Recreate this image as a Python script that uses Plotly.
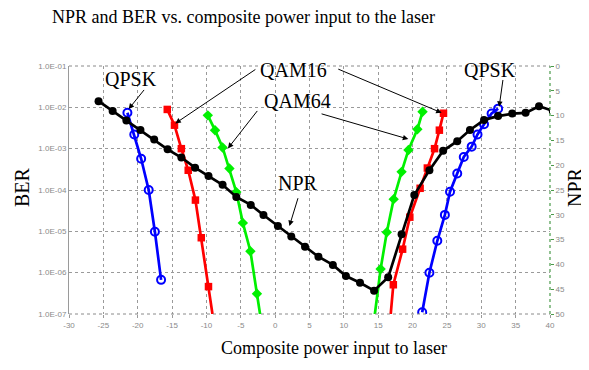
import plotly.graph_objects as go

# ---------------- data ----------------
qpsk_l_x = [-21.5, -20.5, -19.5, -18.4, -17.5, -16.6]
qpsk_l_ber = [7.4e-3, 2.2e-3, 5.7e-4, 1.0e-4, 9.8e-6, 6.7e-7]

qam16_l_x = [-15.7, -14.65, -13.65, -12.65, -11.6, -10.75, -9.7, -8.7]
qam16_l_ber = [8.9e-3, 3.7e-3, 1.0e-3, 3.0e-4, 5.7e-5, 7.0e-6, 4.6e-7, 3.4e-8]

qam64_l_x = [-9.8, -8.75, -7.65, -6.65, -5.65, -4.7, -3.6, -2.65, -1.9]
qam64_l_ber = [6.4e-3, 2.8e-3, 1.07e-3, 3.3e-4, 8.9e-5, 1.6e-5, 3.3e-6, 3.1e-7, 4.8e-8]

qam64_r_x = [14.4, 15.35, 16.25, 17.25, 18.4, 19.4, 20.7, 21.45]
qam64_r_ber = [7.1e-8, 1.23e-6, 9.5e-6, 6.0e-5, 2.75e-4, 9.3e-4, 2.95e-3, 7.8e-3]

qam16_r_x = [16.5, 17.2, 18.55, 19.6, 21.1, 22.15, 23.2, 23.9, 24.5]
qam16_r_ber = [2.5e-8, 5.1e-7, 3.7e-6, 2.2e-5, 1.1e-4, 3.4e-4, 1.0e-3, 2.8e-3, 7.2e-3]

qpsk_r_x = [21.4, 22.45, 23.6, 24.7, 25.45, 26.5, 27.45, 28.6, 29.45, 30.4, 31.5, 32.45]
qpsk_r_ber = [1.1e-7, 1.0e-6, 5.9e-6, 2.5e-5, 9.1e-5, 2.5e-4, 6.3e-4, 1.12e-3,
              2.2e-3, 3.9e-3, 7.1e-3, 9.3e-3]

npr_x = [-25.7, -23.65, -21.65, -19.6, -17.6, -15.65, -13.65, -11.65, -9.7, -7.65,
         -5.65, -3.55, -1.7, 0.4, 2.35, 4.35, 6.3, 8.4, 10.3, 12.35, 14.4, 16.45,
         18.4, 20.25, 22.45, 24.45, 26.5, 28.35, 30.4, 32.45, 34.5, 36.45, 38.4, 40.4]
npr_val = [7.1, 9.05, 11.0, 12.9, 14.8, 16.8, 18.45, 20.5, 22.2, 23.95,
           26.4, 28.0, 30.05, 32.25, 34.4, 36.45, 38.45, 40.1, 42.35, 43.7, 45.3, 42.6,
           33.9, 26.0, 21.0, 17.1, 15.15, 12.9, 10.9, 10.1, 9.6, 9.45, 8.1, 9.05]

x_ticks = [-30, -25, -20, -15, -10, -5, 0, 5, 10, 15, 20, 25, 30, 35, 40]
x_ticktext = ["-30", "-25", "-20", "-15", "-10", "-5", "0", "5", "10", "15",
              "20", "25", "30", "35", "40"]
ber_ticks = [1e-7, 1e-6, 1e-5, 1e-4, 1e-3, 1e-2, 1e-1]
ber_ticktext = ["1.0E-07", "1.0E-06", "1.0E-05", "1.0E-04", "1.0E-03", "1.0E-02", "1.0E-01"]
npr_ticks = [0, 5, 10, 15, 20, 25, 30, 35, 40, 45, 50]
npr_ticktext = [str(v) for v in npr_ticks]

# ---------------- figure ----------------
fig = go.Figure()

BLUE, RED, GREEN, BLACK = "#0000ff", "#ff0000", "#00f000", "#000000"
LW = 2.7

def qpsk(x, y):
    return go.Scatter(x=x, y=y, mode="lines+markers", yaxis="y",
                      line=dict(color=BLUE, width=LW),
                      marker=dict(symbol="circle-open", size=8, color=BLUE,
                                  line=dict(width=2, color=BLUE)),
                      showlegend=False)

def qam16(x, y):
    return go.Scatter(x=x, y=y, mode="lines+markers", yaxis="y",
                      line=dict(color=RED, width=LW),
                      marker=dict(symbol="square", size=7.5, color=RED),
                      showlegend=False)

def qam64(x, y):
    return go.Scatter(x=x, y=y, mode="lines+markers", yaxis="y",
                      line=dict(color=GREEN, width=LW),
                      marker=dict(symbol="diamond", size=8, color=GREEN),
                      showlegend=False)

fig.add_trace(qpsk(qpsk_l_x, qpsk_l_ber))
fig.add_trace(qam16(qam16_l_x, qam16_l_ber))
fig.add_trace(qam64(qam64_l_x, qam64_l_ber))
fig.add_trace(qam64(qam64_r_x, qam64_r_ber))
fig.add_trace(qam16(qam16_r_x, qam16_r_ber))
fig.add_trace(qpsk(qpsk_r_x, qpsk_r_ber))
fig.add_trace(go.Scatter(x=npr_x, y=npr_val, mode="lines+markers", yaxis="y2",
                         line=dict(color=BLACK, width=LW),
                         marker=dict(symbol="circle", size=8, color=BLACK),
                         showlegend=False))

tickfont = dict(family="Liberation Sans, Arial, sans-serif", size=8, color="#8a8a8a")
serif = "Liberation Serif, Times New Roman, serif"

# page body adds an 8px offset, so margins compensate for it
fig.update_layout(
    width=589, height=370,
    margin=dict(l=61, r=47, t=58, b=64),
    paper_bgcolor="white", plot_bgcolor="white",
    xaxis=dict(range=[-30, 40], tickvals=x_ticks, ticktext=x_ticktext,
               showgrid=True, gridcolor="#9a9a9a", griddash="dot", gridwidth=1,
               zeroline=False, showline=False, tickfont=tickfont,
               ticks="outside", ticklen=3, tickcolor="#9a9a9a"),
    yaxis=dict(type="log", range=[-7, -1], tickvals=ber_ticks, ticktext=ber_ticktext,
               showgrid=True, gridcolor="#9a9a9a", griddash="dot", gridwidth=1,
               zeroline=False, showline=True, linecolor="#9a9a9a", linewidth=1,
               tickfont=tickfont, ticks=""),
    yaxis2=dict(overlaying="y", side="right", range=[50, 0], tickvals=npr_ticks,
                ticktext=npr_ticktext, showgrid=False, zeroline=False, showline=False,
                tickfont=tickfont, ticks="outside", ticklen=3, tickcolor="#4a9a4a"),
)

# green dotted NPR axis line
fig.add_shape(type="line", xref="paper", yref="paper", x0=1, x1=1, y0=0, y1=1,
              line=dict(color="#4a9a4a", width=1.2, dash="dot"))
# top and bottom dotted frame
for yy in (0, 1):
    fig.add_shape(type="line", xref="paper", yref="paper", x0=0, x1=1, y0=yy, y1=yy,
                  line=dict(color="#8a8a8a", width=1, dash="dot"))

# arrows: (head_x, head_logy, tail_x, tail_logy)
arrows = [
    (-21.32, -2.043, -18.90, -1.543),   # QPSK left
    (-14.53, -2.389, -2.66, -1.060),    # QAM16 left
    (24.23, -2.133, 8.97, -1.060),      # QAM16 right
    (-6.87, -2.993, -2.43, -2.051),     # QAM64 left
    (19.38, -2.768, 6.54, -2.147),      # QAM64 right
    (2.08, -4.87, 3.39, -4.162),        # NPR
    (32.60, -1.988, 33.18, -1.302),     # QPSK right
]
for hx, hy, tx, ty in arrows:
    fig.add_annotation(x=hx, y=hy, ax=tx, ay=ty, xref="x", yref="y",
                       axref="x", ayref="y", text="", showarrow=True,
                       arrowhead=2, arrowsize=1.1, arrowwidth=1, arrowcolor="black")

labels = [
    ("QPSK", -20.93, -1.326),
    ("QAM16", 2.66, -1.101),
    ("QAM64", 3.24, -1.843),
    ("NPR", 3.39, -3.838),
    ("QPSK", 31.25, -1.101),
]
for txt, lx, ly in labels:
    fig.add_annotation(x=lx, y=ly, xref="x", yref="y", text=txt, showarrow=False,
                       font=dict(family=serif, size=20, color="black"),
                       xanchor="center", yanchor="middle", bgcolor="rgba(0,0,0,0)")

# titles
fig.add_annotation(x=0.3628, y=1.1976, xref="paper", yref="paper",
                   text="NPR and BER vs. composite power input to the laser",
                   showarrow=False, font=dict(family=serif, size=18, color="black"),
                   xanchor="center", yanchor="middle")
fig.add_annotation(x=0.551, y=-0.137, xref="paper", yref="paper",
                   text="Composite power input to laser", showarrow=False,
                   font=dict(family=serif, size=18, color="black"),
                   xanchor="center", yanchor="middle")
fig.add_annotation(x=-0.0977, y=0.512, xref="paper", yref="paper", text="BER",
                   showarrow=False, textangle=-90,
                   font=dict(family=serif, size=20, color="black"),
                   xanchor="center", yanchor="middle")
fig.add_annotation(x=1.052, y=0.512, xref="paper", yref="paper", text="NPR",
                   showarrow=False, textangle=-90,
                   font=dict(family=serif, size=20, color="black"),
                   xanchor="center", yanchor="middle")

fig.write_html("out.html")
